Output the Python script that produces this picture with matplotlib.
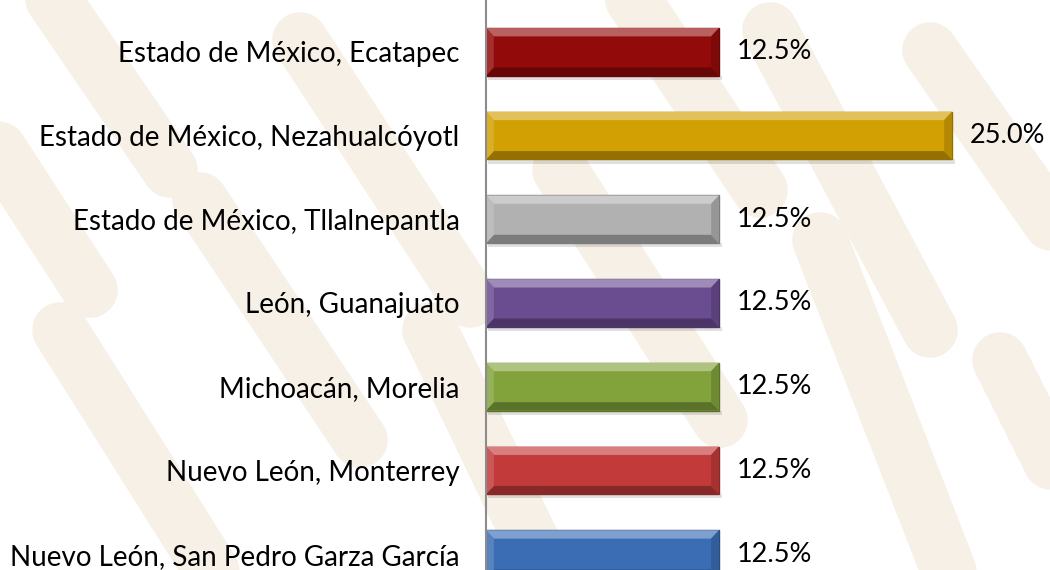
import matplotlib.pyplot as plt
from matplotlib.patches import Polygon
from matplotlib.colors import to_rgb

plt.rcParams['font.family'] = ['Lato', 'DejaVu Sans']

categories = [
    "Estado de México, Ecatapec",
    "Estado de México, Nezahualcóyotl",
    "Estado de México, Tllalnepantla",
    "León, Guanajuato",
    "Michoacán, Morelia",
    "Nuevo León, Monterrey",
    "Nuevo León, San Pedro Garza García",
]
values = [12.5, 25.0, 12.5, 12.5, 12.5, 12.5, 12.5]
colors = ["#930a0b", "#d2a002", "#b1b1b1", "#6a4c91", "#82a33c", "#c23a3a", "#3a6db3"]

# background pattern strokes (pixel coords of the decorative image)
bg_strokes = [
    [(40, -20), (170, 170)],
    [(-20, 120), (90, 290)],
    [(60, 330), (230, 600)],
    [(200, 200), (360, 440)],
    [(300, 40), (470, 300)],
    [(430, 330), (560, 600)],
    [(560, 170), (720, 420)],
    [(620, -20), (760, 190)],
    [(820, 240), (960, 600)],
    [(770, 30), (930, 330)],
    [(930, 50), (1070, 250)],
    [(1000, 360), (1070, 500)],
]


def shade(c, f):
    r, g, b = to_rgb(c)
    if f > 0:
        return (r + (1 - r) * f, g + (1 - g) * f, b + (1 - b) * f)
    return (r * (1 + f), g * (1 + f), b * (1 + f))


fig = plt.figure(figsize=(10.5, 5.7), dpi=100)
fig.patch.set_facecolor("white")

bg = fig.add_axes([0, 0, 1, 1], zorder=0)
bg.set_xlim(0, 1050)
bg.set_ylim(570, 0)
bg.axis("off")
for s in bg_strokes:
    xs, ys = zip(*s)
    bg.plot(xs, ys, color="#f6f0e6", lw=40, solid_capstyle="round")

ax = fig.add_axes([486 / 1050, 0, 1 - 486 / 1050, 1], zorder=1)
ax.patch.set_alpha(0)
ypos = list(range(len(categories)))
bh = 0.57
ax.barh(ypos, values, height=bh, color=colors, edgecolor=[shade(c, -0.3) for c in colors], linewidth=1, zorder=3)

xmax = 30.26
ax.set_xlim(0, xmax)
ax.set_ylim(6.19, -0.62)

bx = 0.42
by = 0.1
for y, v, c in zip(ypos, values, colors):
    top, bot = y - bh / 2, y + bh / 2
    # soft shadow
    ax.add_patch(Polygon([(0.1, bot), (v + 0.15, bot), (v + 0.15, bot + 0.05), (0.1, bot + 0.05)],
                         closed=True, color="#000000", alpha=0.12, lw=0, zorder=2))
    ax.add_patch(Polygon([(0, top), (v, top), (v - bx, top + by), (bx, top + by)],
                         closed=True, color=shade(c, 0.35), lw=0, zorder=4))
    ax.add_patch(Polygon([(0, bot), (v, bot), (v - bx, bot - by), (bx, bot - by)],
                         closed=True, color=shade(c, -0.3), lw=0, zorder=4))
    ax.add_patch(Polygon([(v, top), (v, bot), (v - bx, bot - by), (v - bx, top + by)],
                         closed=True, color=shade(c, -0.15), lw=0, zorder=4))
    ax.add_patch(Polygon([(0, top), (0, bot), (bx, bot - by), (bx, top + by)],
                         closed=True, color=shade(c, 0.15), lw=0, zorder=4))
    ax.text(v + xmax * 18 / 564, y, f"{v:.1f}%", va="center", ha="left", fontsize=19.5, color="black", zorder=5)

ax.set_yticks(ypos)
ax.set_yticklabels(categories, fontsize=20)
ax.tick_params(axis="y", length=0, pad=19)
ax.set_xticks([])
for side in ["top", "right", "bottom"]:
    ax.spines[side].set_visible(False)
ax.spines["left"].set_color("#8c8c8c")
ax.spines["left"].set_linewidth(1.5)
ax.spines["left"].set_zorder(6)

fig.savefig("out.png", dpi=100)
